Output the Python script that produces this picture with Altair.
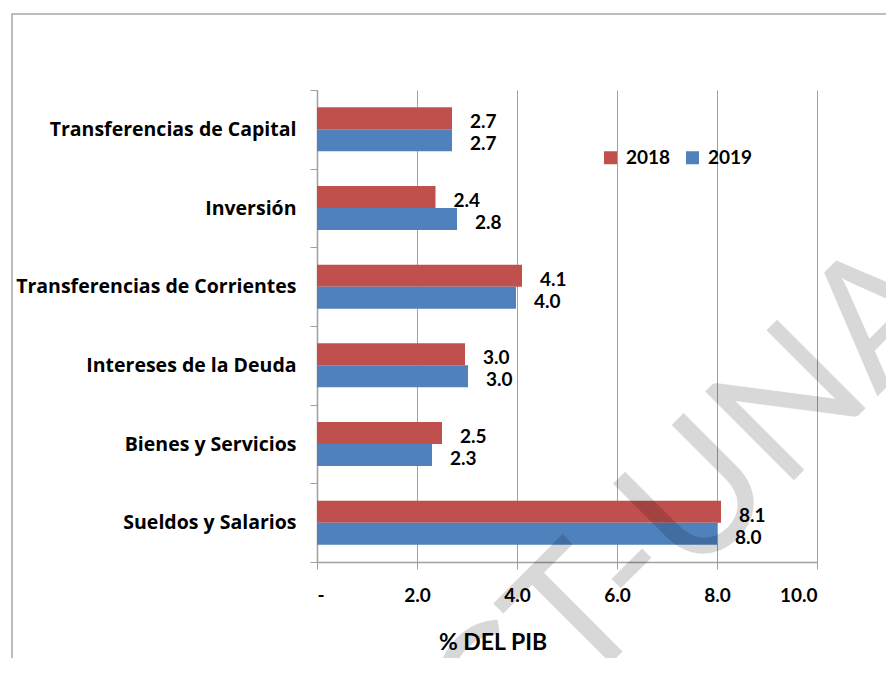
import altair as alt
import pandas as pd

categories = ["Transferencias de Capital", "Inversión", "Transferencias de Corrientes",
              "Intereses de la Deuda", "Bienes y Servicios", "Sueldos y Salarios"]
years = ["2018", "2019"]
values_2018 = [2.70, 2.37, 4.10, 2.96, 2.50, 8.08]
values_2019 = [2.70, 2.80, 3.98, 3.02, 2.30, 8.00]
x_ticks = [0, 2, 4, 6, 8, 10]
colors = ["#C0504D", "#4F81BD"]
axis_title = "% DEL PIB"
watermark_before = "C"
watermark_after = "T-UNA"

rows = []
for c, v18, v19 in zip(categories, values_2018, values_2019):
    rows.append({"categoria": c, "anio": years[0], "valor": v18})
    rows.append({"categoria": c, "anio": years[1], "valor": v19})
df = pd.DataFrame(rows)
one = pd.DataFrame({"k": [0]})

FONT = "Lato"
CAT_FONT = "Open Sans"
GREY = "#a0a0a0"

y_enc = alt.Y(
    "categoria:N", sort=categories,
    scale=alt.Scale(paddingInner=0, paddingOuter=0),
    axis=alt.Axis(title=None, tickBand="extent", labelFont=CAT_FONT, labelFontWeight="bold",
                  labelFontSize=19.5, labelColor="black", labelPadding=14, tickSize=7,
                  tickColor=GREY, domainColor=GREY, domainWidth=1.5, grid=False, labelLimit=400),
)
x_enc = alt.X(
    "valor:Q",
    scale=alt.Scale(domain=[0, 10], nice=False),
    axis=alt.Axis(values=x_ticks,
                  labelExpr="datum.value == 0 ? '-' : format(datum.value, '.1f')",
                  labelFont=FONT, labelFontWeight="bold", labelFontSize=19, labelColor="black",
                  labelPadding=17, tickSize=7, tickColor=GREY, domainColor=GREY, domainWidth=1.5,
                  grid=True, gridColor=GREY, gridWidth=1,
                  title=axis_title, titleFont=FONT, titleFontWeight="bold", titleFontSize=23,
                  titleColor="black", titleX=175.5, titleY=87, titleAlign="center",
                  titleBaseline="alphabetic"),
)
yoff = alt.YOffset("anio:N", scale=alt.Scale(domain=years, paddingInner=0, paddingOuter=0.79))

bars = alt.Chart(df).mark_bar().encode(
    y=y_enc, x=x_enc, yOffset=yoff,
    color=alt.Color("anio:N", scale=alt.Scale(domain=years, range=colors),
                    legend=alt.Legend(title=None, orient="none", legendX=284, legendY=58,
                                      direction="horizontal", symbolType="square",
                                      symbolSize=169, symbolStrokeWidth=0, labelFont=FONT,
                                      labelFontWeight="bold", labelFontSize=19,
                                      labelColor="black", labelOffset=6, columnPadding=12,
                                      padding=0)),
)

labels = alt.Chart(df).mark_text(
    align="left", baseline="middle", dx=18, dy=4, font=FONT, fontWeight="bold",
    fontSize=19, color="black",
).encode(y=y_enc, x=x_enc, yOffset=yoff, text=alt.Text("valor:Q", format=".1f"))

border = alt.Chart(one).mark_rect(fillOpacity=0, stroke="#a6a6a6", strokeWidth=1.5).encode(
    x=alt.value(-305), x2=alt.value(900), y=alt.value(-76), y2=alt.value(700)
)

wm_a = alt.Chart(one).mark_text(
    text=watermark_after, angle=315, align="left", baseline="alphabetic", font=FONT,
    fontSize=175, color="black", opacity=0.15,
).encode(x=alt.value(263), y=alt.value(604))
wm_b = alt.Chart(one).mark_text(
    text=watermark_before, angle=315, align="right", baseline="alphabetic", font=FONT,
    fontSize=175, color="black", opacity=0.15,
).encode(x=alt.value(263), y=alt.value(604))

chart = alt.layer(border, bars, labels, wm_b, wm_a).properties(
    width=500, height=472,
    autosize=alt.AutoSizeParams(type="none"),
    padding={"left": 309, "top": 82, "right": 69, "bottom": 96},
).configure_view(strokeWidth=0)

chart.save("out.html", embed_options={"renderer": "svg", "actions": False})
